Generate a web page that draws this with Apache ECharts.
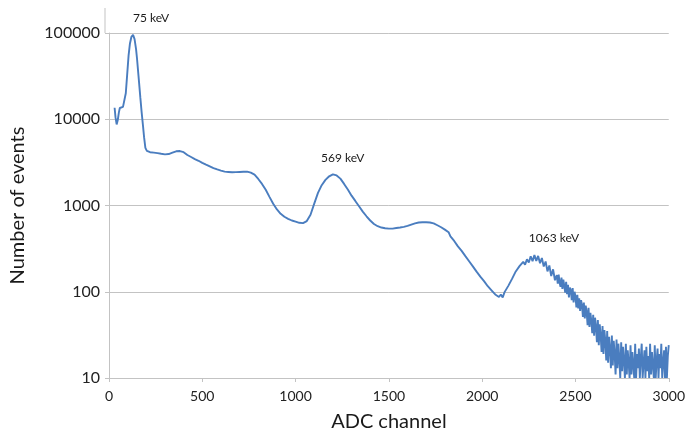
<!DOCTYPE html>
<html>
<head>
<meta charset="utf-8">
<script src="https://cdn.jsdelivr.net/npm/echarts@6/dist/echarts.min.js"></script>
<style>
  html, body { margin: 0; padding: 0; background: #fff; }
  #showChart { width: 688px; height: 438px; }
</style>
</head>
<body>
<div id="showChart"></div>
<script>
// ADC channel (x) and counts (y)
var channels = [
    30, 35, 41, 47, 53, 58, 65, 75, 83, 90, 97, 105, 112, 120, 129, 137, 145, 150, 158, 168,
    175, 182, 188, 195, 203, 212,
    220, 240, 260, 280, 300, 320, 340, 360, 380, 400, 420, 440, 460, 480, 500, 520, 540, 560, 580, 600,
    620, 640, 660, 680, 700, 720, 740, 760, 780, 800, 820, 840, 860, 880, 900, 920, 940, 960, 980, 1000,
    1020, 1040, 1060, 1080, 1100, 1120, 1140, 1160, 1180, 1200, 1220, 1240, 1260, 1280, 1300, 1320, 1340, 1360, 1380, 1400,
    1420, 1440, 1460, 1480, 1500, 1520, 1540, 1560, 1580, 1600, 1620, 1640, 1660, 1680, 1700, 1720, 1740, 1760, 1780,
    1800, 1810, 1820, 1830, 1840, 1850, 1860, 1870, 1880, 1890, 1900, 1910, 1920, 1930, 1940, 1950, 1960, 1970, 1980, 1990,
    2000, 2010, 2020, 2030, 2040, 2050, 2060, 2070, 2080, 2090, 2100, 2110, 2120, 2130, 2140, 2150, 2160, 2170, 2180, 2190,
    2200, 2210, 2220, 2230, 2240, 2250, 2260, 2270, 2280, 2290, 2300, 2310, 2320, 2330, 2340, 2350, 2360, 2370, 2380, 2390,
    2400, 2405, 2410, 2415, 2420, 2425, 2430, 2435, 2440, 2445, 2450, 2455, 2460, 2465, 2470, 2475, 2480, 2485, 2490, 2495,
    2500, 2505, 2510, 2515, 2520, 2525, 2530, 2535, 2540, 2545, 2550, 2555, 2560, 2565, 2570, 2575, 2580, 2585, 2590, 2595,
    2600, 2605, 2610, 2615, 2620, 2625, 2630, 2635, 2640, 2645, 2650, 2655, 2660, 2665, 2670, 2675, 2680, 2685, 2690, 2695,
    2700, 2705, 2710, 2715, 2720, 2725, 2730, 2735, 2740, 2745, 2750, 2755, 2760, 2765, 2770, 2775, 2780, 2785, 2790, 2795,
    2800, 2805, 2810, 2815, 2820, 2825, 2830, 2835, 2840, 2845, 2850, 2855, 2860, 2865, 2870, 2875, 2880, 2885, 2890, 2895,
    2900, 2905, 2910, 2915, 2920, 2925, 2930, 2935, 2940, 2945, 2950, 2955, 2960, 2965, 2970, 2975, 2980, 2985, 2990, 2995,
    3000
];
var counts = [
    13600, 10500, 8700, 9800, 12000, 13500, 14000, 13900, 14200, 20000, 32000, 55000, 75000, 90000, 95000, 85000, 65000, 51000, 32000, 17800,
    12000, 8500, 6200, 4650, 4300, 4200,
    4150, 4100, 4050, 3980, 3920, 3950, 4100, 4250, 4280, 4150, 3850, 3650, 3450, 3300, 3120, 2980, 2850, 2720, 2620, 2540,
    2470, 2450, 2430, 2440, 2450, 2460, 2470, 2400, 2280, 2030, 1780, 1520, 1260, 1050, 900, 800, 740, 700, 670, 650,
    630, 625, 660, 780, 1050, 1400, 1720, 1980, 2180, 2300, 2230, 2050, 1780, 1530, 1300, 1130, 980, 850, 750, 670,
    610, 575, 555, 545, 540, 540, 548, 556, 565, 580, 600, 620, 635, 640, 640, 635, 620, 590, 560,
    525, 498, 490, 438, 428, 388, 379, 336, 332, 298, 292, 259, 256, 226, 224, 197, 194, 171, 172, 150,
    153, 133, 135, 116, 119, 104, 106, 93, 97, 87, 93, 86, 99, 98, 117, 119, 141, 145, 172, 171,
    198, 190, 222, 206, 238, 218, 258, 226, 266, 228, 260, 214, 246, 196, 224, 172, 202, 152, 182, 136,
    156, 124, 158, 127, 114, 146, 108, 138, 118, 98, 130, 94, 120, 86, 112, 104, 80, 110, 75, 100,
    88, 66, 92, 64, 84, 60, 80, 70, 51, 75, 49, 69, 58, 41, 65, 39, 57, 46, 33, 54,
    31, 50, 39, 26, 47, 24, 42, 31, 20, 40, 19, 36, 27, 16, 35, 15, 30, 22, 13, 31,
    14, 27, 19, 11, 28, 13, 25, 17, 10, 26, 12, 23, 16, 10, 25, 11, 21, 15, 10, 24,
    11, 20, 14, 10, 25, 10, 19, 13, 22, 10, 17, 25, 10, 15, 21, 10, 23, 12, 18, 10,
    25, 11, 20, 14, 10, 24, 10, 16, 22, 10, 19, 13, 25, 10, 15, 21, 10, 23, 10, 18,
    24
];
// peak labels
var peakNames = ['75 keV', '569 keV', '1063 keV'];
var peakChannels = [129, 1204, 2283];
var peakCounts = [95000, 2300, 245];

var xTicks = [0, 500, 1000, 1500, 2000, 2500, 3000];

var data = [];
for (var i = 0; i < channels.length; i++) {
    data.push([channels[i], counts[i]]);
}
var peaks = [];
var offsets = [[18, -17], [9, -16], [19, -20]];
for (var j = 0; j < peakNames.length; j++) {
    peaks.push({
        coord: [peakChannels[j], peakCounts[j]],
        label: { formatter: peakNames[j], offset: offsets[j] }
    });
}

var font = 'Lato, "Liberation Sans", sans-serif';
var lineGrey = '#c3c3c3';

option = {
    animation: false,
    grid: { left: 105, right: 18, top: 33, bottom: 60 },
    xAxis: {
        type: 'value',
        min: xTicks[0],
        max: xTicks[xTicks.length - 1],
        interval: 500,
        name: 'ADC channel',
        nameLocation: 'middle',
        nameGap: 34,
        nameTextStyle: { fontFamily: font, fontSize: 20, color: '#1a1a1a' },
        axisLine: { lineStyle: { color: lineGrey, width: 1 } },
        axisTick: { show: true, length: 4, lineStyle: { color: lineGrey } },
        axisLabel: {
            fontFamily: font, fontSize: 14, color: '#222', margin: 11,
            formatter: function (v) { return String(v); }
        },
        splitLine: { show: false }
    },
    yAxis: {
        type: 'log',
        logBase: 10,
        min: 10,
        max: 100000,
        name: 'Number of events',
        nameLocation: 'middle',
        nameGap: 81,
        nameTextStyle: { fontFamily: font, fontSize: 20, color: '#1a1a1a' },
        axisLine: { show: true, lineStyle: { color: lineGrey, width: 1 } },
        axisTick: { show: true, length: 4, lineStyle: { color: lineGrey } },
        axisLabel: {
            fontFamily: font, fontSize: 16, color: '#222', margin: 9,
            formatter: function (v) { return String(Math.round(v)); }
        },
        splitLine: { show: true, lineStyle: { color: lineGrey, width: 1 } },
        minorTick: { show: false }
    },
    graphic: [{
        type: 'line',
        shape: { x1: 105, y1: 8, x2: 105, y2: 33 },
        style: { stroke: lineGrey, lineWidth: 1 }
    }],
    series: [{
        name: 'spectrum',
        type: 'line',
        showSymbol: false,
        symbol: 'none',
        data: data,
        lineStyle: { color: '#4a7dbf', width: 1.9 },
        markPoint: {
            symbol: 'circle',
            symbolSize: 0,
            label: {
                show: true,
                fontFamily: font,
                fontSize: 12,
                color: '#1a1a1a'
            },
            data: peaks
        }
    }]
};

var chartOutChar = echarts.init(document.getElementById('showChart'));
chartOutChar.setOption(option);
</script>
</body>
</html>
